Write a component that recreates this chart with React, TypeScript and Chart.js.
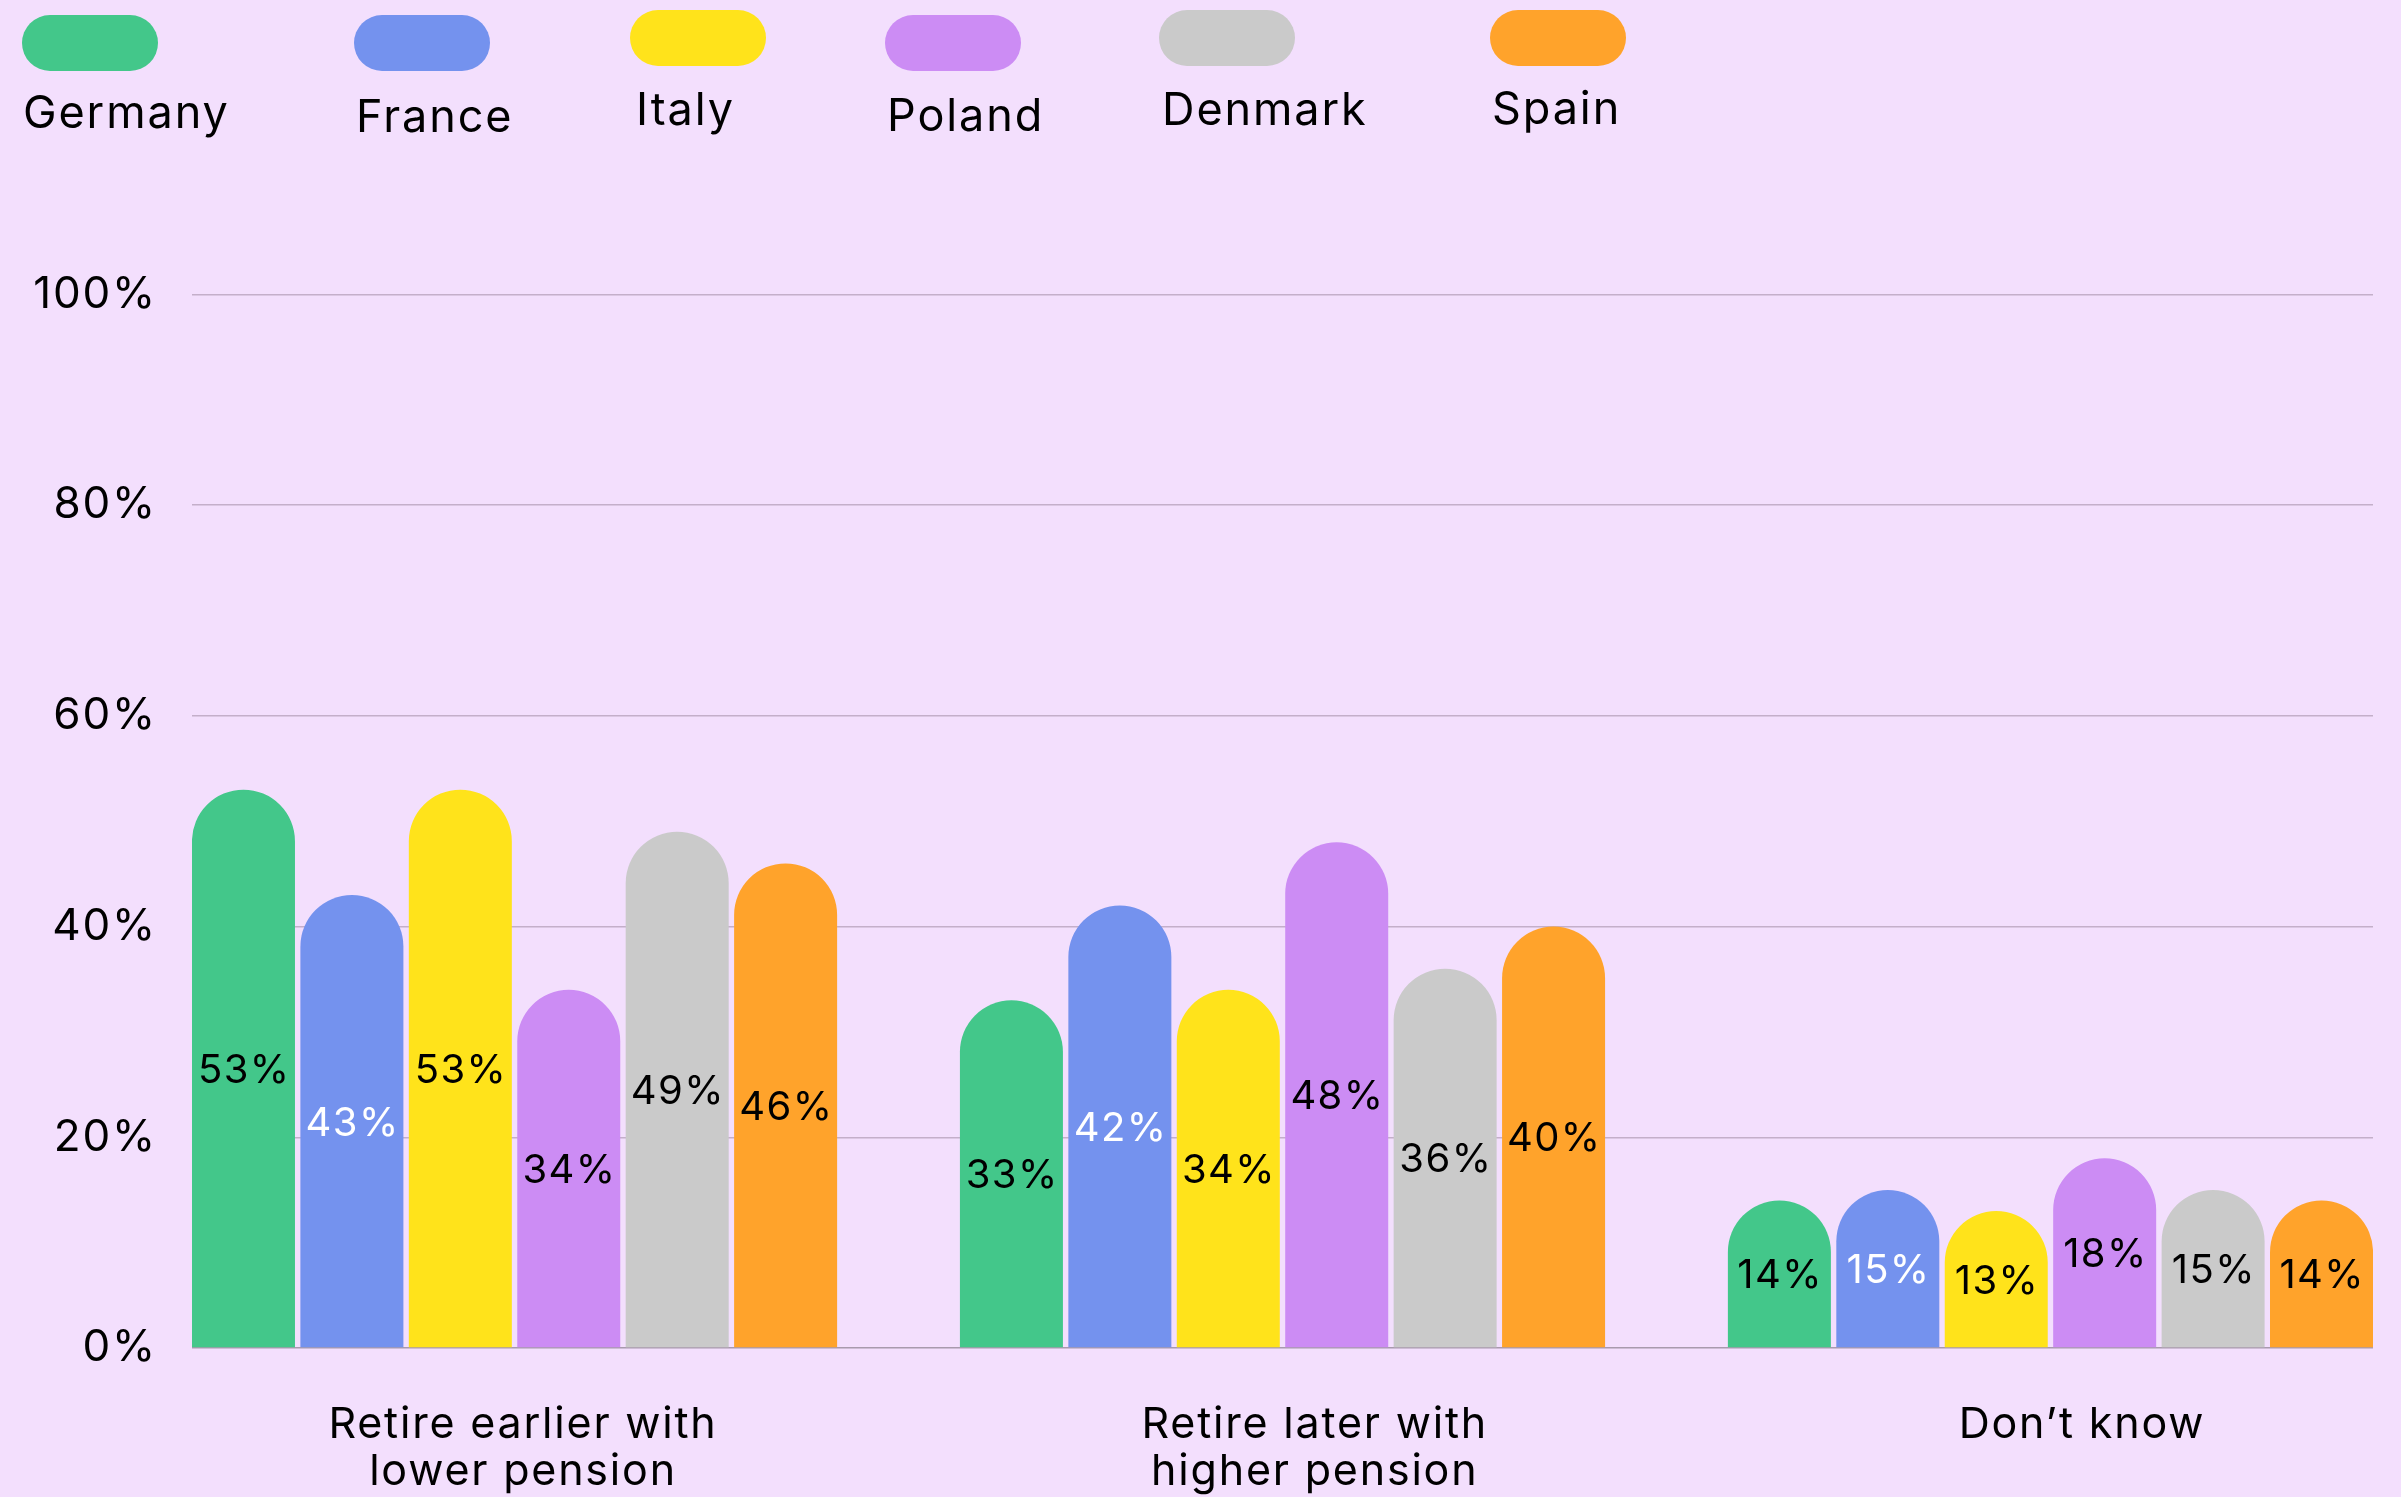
import React, { useEffect, useRef } from "react";
import { Chart, registerables } from "chart.js";

Chart.register(...registerables);

// ---- data ----
const categories: string[][] = [
  ["Retire earlier with", "lower pension"],
  ["Retire later with", "higher pension"],
  ["Don’t know"],
];
const countries = ["Germany", "France", "Italy", "Poland", "Denmark", "Spain"];
const germany = [53, 33, 14];
const france = [43, 42, 15];
const italy = [53, 34, 13];
const poland = [34, 48, 18];
const denmark = [49, 36, 15];
const spain = [46, 40, 14];
const yTickValues = [0, 20, 40, 60, 80, 100];

// ---- styles / layout ----
const series = [germany, france, italy, poland, denmark, spain];
const colors = ["#43c78a", "#7492ee", "#ffe31b", "#cc8cf4", "#cacaca", "#ffa32b"];
const labelColors = ["#000000", "#ffffff", "#000000", "#000000", "#000000", "#000000"];
const FONT = "Inter, 'Noto Sans', sans-serif";
const BG = "#f3dffd";
// small horizontal nudge of each category label relative to its group (in category units)
const labelNudge = [0.011, 0.042, 0.041];

// legend placement (pill top-left, text left + baseline)
const legendLayout = [
  { px: 22, py: 15, tx: 23, ty: 128 },
  { px: 354, py: 15, tx: 356, ty: 132 },
  { px: 630, py: 10, tx: 636, ty: 125 },
  { px: 885, py: 15, tx: 887, ty: 131 },
  { px: 1159, py: 10, tx: 1162, ty: 125 },
  { px: 1490, py: 10, tx: 1492, ty: 124 },
];

const letterSpacingPlugin = {
  id: "letterSpacing",
  beforeDraw(chart: any) {
    (chart.ctx as any).letterSpacing = "1.8px";
  },
};

const barLabelPlugin = {
  id: "barLabels",
  afterDatasetsDraw(chart: any) {
    const ctx = chart.ctx;
    ctx.save();
    ctx.font = `40px ${FONT}`;
    (ctx as any).letterSpacing = "1.4px";
    ctx.textAlign = "center";
    ctx.textBaseline = "alphabetic";
    chart.data.datasets.forEach((_ds: any, i: number) => {
      const meta = chart.getDatasetMeta(i);
      meta.data.forEach((el: any, j: number) => {
        const { x, y, base } = el.getProps(["x", "y", "base"], true);
        ctx.fillStyle = labelColors[i];
        ctx.fillText(`${series[i][j]}%`, x + 0.7, (y + base) / 2 + 14.5);
      });
    });
    ctx.restore();
  },
};

const customLegendPlugin = {
  id: "customLegend",
  afterDraw(chart: any) {
    const ctx = chart.ctx;
    ctx.save();
    ctx.font = `45px ${FONT}`;
    (ctx as any).letterSpacing = "1.9px";
    ctx.textAlign = "left";
    ctx.textBaseline = "alphabetic";
    chart.data.datasets.forEach((ds: any, i: number) => {
      const l = legendLayout[i];
      ctx.fillStyle = ds.backgroundColor;
      ctx.beginPath();
      ctx.roundRect(l.px, l.py, 136, 56, 28);
      ctx.fill();
      ctx.fillStyle = "#000000";
      ctx.fillText(ds.label, l.tx, l.ty);
    });
    ctx.restore();
  },
};

export default function App() {
  const canvasRef = useRef<HTMLCanvasElement | null>(null);

  useEffect(() => {
    if (!canvasRef.current) return;
    const chart = new Chart(canvasRef.current, {
      type: "bar",
      data: {
        datasets: countries.map((name, i) => ({
          label: name,
          data: series[i].map((v, j) => ({ x: j, y: v })),
          backgroundColor: colors[i],
          borderWidth: 0,
          borderRadius: { topLeft: 999, topRight: 999, bottomLeft: 0, bottomRight: 0 },
          borderSkipped: "start",
          categoryPercentage: 0.848,
          barPercentage: 0.95,
        })),
      },
      options: {
        animation: false,
        responsive: true,
        maintainAspectRatio: false,
        devicePixelRatio: 1,
        layout: { padding: { top: 294.5, right: 28, left: 0, bottom: 0 } },
        plugins: {
          legend: { display: false },
          tooltip: { enabled: false },
        },
        scales: {
          x: {
            type: "linear",
            min: -0.42,
            max: 2.42,
            offset: false,
            grid: { display: false, drawTicks: false },
            border: { display: false },
            afterBuildTicks: (axis: any) => {
              axis.ticks = categories.map((_c, i) => ({ value: i + labelNudge[i] }));
            },
            afterFit: (axis: any) => {
              axis.height = 149;
            },
            ticks: {
              autoSkip: false,
              maxRotation: 0,
              minRotation: 0,
              padding: 53,
              color: "#000000",
              font: { family: FONT, size: 43, lineHeight: 1.1 },
              callback: (v: any) => categories[Math.round(Number(v))] ?? "",
            },
          },
          y: {
            min: 0,
            max: 100,
            afterBuildTicks: (axis: any) => {
              axis.ticks = yTickValues.map((v) => ({ value: v }));
            },
            afterFit: (axis: any) => {
              axis.width = 192;
            },
            grid: {
              drawTicks: false,
              lineWidth: 1.5,
              color: (c: any) => (c.tick && c.tick.value === 0 ? "#a89aad" : "#c4afca"),
            },
            border: { display: false },
            ticks: {
              padding: 35,
              color: "#000000",
              font: { family: FONT, size: 44 },
              callback: (v: any) => `${v}%`,
            },
          },
        },
      } as any,
      plugins: [letterSpacingPlugin, barLabelPlugin, customLegendPlugin],
    });
    return () => chart.destroy();
  }, []);

  return (
    <div
      style={{
        position: "fixed",
        left: 0,
        top: 0,
        width: "2401px",
        height: "1497px",
        background: BG,
      }}
    >
      <canvas ref={canvasRef} />
    </div>
  );
}
